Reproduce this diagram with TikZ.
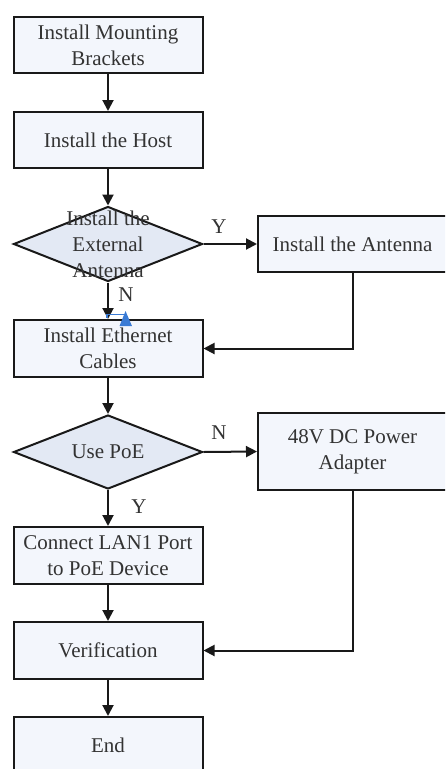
\documentclass[tikz,border=0pt]{standalone}
\usepackage{fontspec}
\setmainfont{Liberation Serif}
\usetikzlibrary{shapes.geometric,arrows.meta}
\definecolor{boxfill}{HTML}{F3F6FC}
\definecolor{diafill}{HTML}{E3E9F4}
\definecolor{txt}{HTML}{333333}
\definecolor{selblue}{HTML}{3A7BD5}
\begin{document}
\begin{tikzpicture}[x=1pt,y=-1pt,
  every node/.style={font=\fontsize{21}{26}\selectfont, text=txt},
  stepbox/.style={draw=black!90, line width=2pt, fill=boxfill, minimum width=189pt, minimum height=56pt, inner sep=0pt, align=center},
  decision/.style={diamond, draw=black!90, line width=2pt, fill=diafill, minimum width=189pt, minimum height=75pt, inner sep=0pt, aspect=2.5},
  arr/.style={draw=black!90, line width=2pt, -{Triangle[length=11pt,width=11pt]}},
  lbl/.style={inner sep=0pt}
]
\useasboundingbox (0,0) rectangle (445,769);
\clip (0,0) rectangle (445,769);
\node[stepbox] (b1) at (108,45) {Install Mounting\\Brackets};
\node[stepbox] (b2) at (108,140) {Install the Host};
\node[decision] (d1) at (108,244) {};
\node[align=center, inner sep=0pt] (d1t) at (108,244) {Install the\\External\\Antenna};
\node[stepbox] (ant) at (352.5,244) {Install the Antenna};
\node[stepbox, minimum height=57pt] (b3) at (108,348.5) {Install Ethernet\\Cables};
\node[decision, minimum height=74pt] (d2) at (108,452) {};
\node[inner sep=0pt] (d2t) at (108,452) {Use PoE};
\node[stepbox, minimum height=77pt] (pwr) at (352.5,451.5) {48V DC Power\\Adapter};
\node[stepbox, minimum height=57pt] (b4) at (108,555.5) {Connect LAN1 Port\\to PoE Device};
\node[stepbox, minimum height=57pt] (ver) at (108,650.5) {Verification};
\node[stepbox, minimum height=57pt] (fin) at (108,745.5) {End};

\draw[arr] (b1.south) -- (b2.north);
\draw[arr] (b2.south) -- (d1.north);
\draw[arr] (d1.east) -- (ant.west);
\draw[arr] (d1.south) -- (b3.north);
\draw[arr] (ant.south) |- (b3.east);
\draw[arr] (b3.south) -- (d2.north);
\draw[arr] (d2.east) -- (pwr.west);
\draw[arr] (d2.south) -- (b4.north);
\draw[arr] (b4.south) -- (ver.north);
\draw[arr] (pwr.south) |- (ver.east);
\draw[arr] (ver.south) -- (fin.north);

\node[lbl] (ly1) at (219,227) {Y};
\node[lbl] (ln1) at (126,295) {N};
\node[lbl] (ln2) at (219,433) {N};
\node[lbl] (ly2) at (139,507) {Y};

% selection marker
\coordinate (m1) at (107,318);
\coordinate (m2) at (107,314.5);
\coordinate (m3) at (124,314.5);
\draw[selblue, line width=1.2pt] (m1) -- (m2) -- (m3);
\coordinate (t1) at (125.5,311);
\coordinate (t2) at (119.5,326);
\coordinate (t3) at (132,326);
\fill[selblue] (t1) -- (t2) -- (t3) -- cycle;
\end{tikzpicture}
\end{document}
